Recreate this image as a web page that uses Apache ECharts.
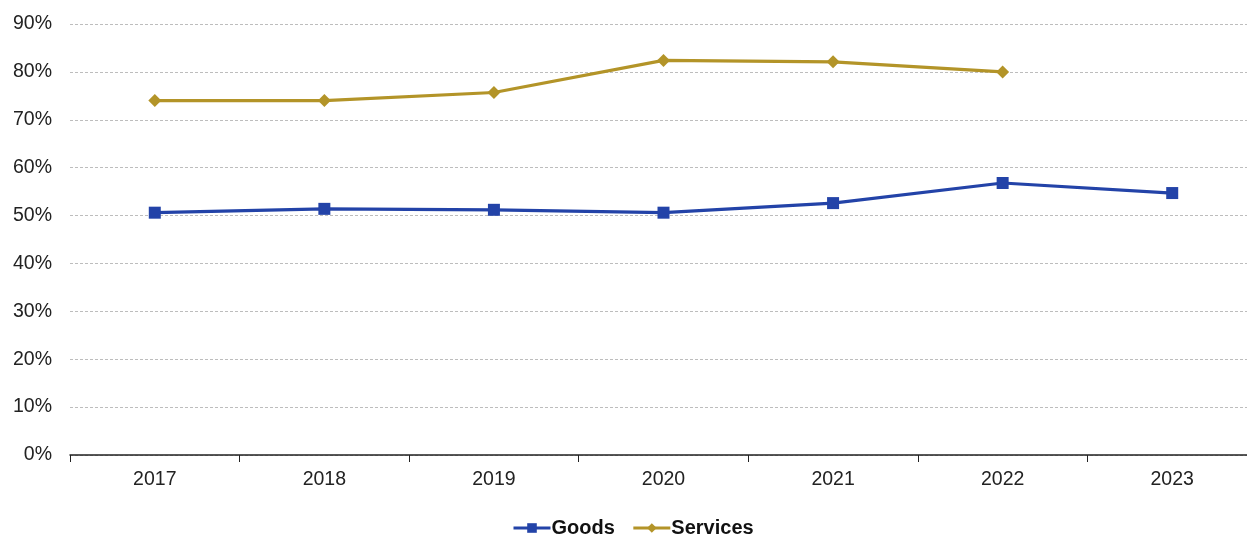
<!DOCTYPE html>
<html>
<head>
<meta charset="utf-8">
<script src="https://cdn.jsdelivr.net/npm/echarts@6/dist/echarts.min.js"></script>
<style>
  html, body { margin: 0; padding: 0; background: #fff; }
  #chart { width: 1247px; height: 536px; }
</style>
</head>
<body>
<div id="chart"></div>
<script>
// Years on the category axis
const years = ['2017', '2018', '2019', '2020', '2021', '2022', '2023'];
// Shares in percent
const goods = [50.6, 51.4, 51.2, 50.6, 52.6, 56.8, 54.7];
const services = [74.0, 74.0, 75.7, 82.4, 82.1, 80.0, null];
// Value axis range and step (percent)
const yMin = 0;
const yMax = 90;
const yStep = 10;

const FONT = 'Liberation Sans, Arial, sans-serif';
const chart = echarts.init(document.getElementById('chart'), null, { renderer: 'canvas' });

chart.setOption({
  animation: false,
  backgroundColor: '#ffffff',
  // plot runs slightly past the right edge of the canvas
  grid: {
    left: 70, width: 1187, top: 24, bottom: 81,
    containLabel: false, outerBoundsMode: 'none'
  },
  legend: {
    left: 507,
    top: 513,
    itemWidth: 37,
    itemHeight: 12,
    itemGap: 17,
    lineStyle: { width: 3 },
    textStyle: {
      fontFamily: FONT, fontSize: 20, fontWeight: 'bold', color: '#111',
      padding: [0, 0, 0, -4]
    },
    data: ['Goods', 'Services']
  },
  xAxis: {
    type: 'category',
    data: years,
    boundaryGap: true,
    axisLine: { lineStyle: { color: '#222', width: 1.5 } },
    axisTick: { show: true, length: 7, lineStyle: { color: '#222' } },
    axisLabel: { fontFamily: FONT, fontSize: 19.5, color: '#222', margin: 15 },
    splitLine: { show: false }
  },
  yAxis: {
    type: 'value',
    min: yMin,
    max: yMax,
    interval: yStep,
    axisLine: { show: false },
    axisTick: { show: false },
    axisLabel: {
      fontFamily: FONT, fontSize: 19.5, color: '#222', margin: 18,
      formatter: v => v + '%'
    },
    splitLine: { lineStyle: { color: '#bdbdbd', type: [3, 2], width: 1 } }
  },
  series: [
    {
      name: 'Goods',
      type: 'line',
      data: goods,
      color: '#2343a8',
      symbol: 'rect',
      symbolSize: 12,
      lineStyle: { width: 3.2, color: '#2343a8' },
      itemStyle: { color: '#2343a8' },
      z: 3
    },
    {
      name: 'Services',
      type: 'line',
      data: services,
      color: '#b39428',
      symbol: 'diamond',
      symbolSize: 13,
      lineStyle: { width: 3.2, color: '#b39428' },
      itemStyle: { color: '#b39428' },
      z: 2
    }
  ]
});
</script>
</body>
</html>
